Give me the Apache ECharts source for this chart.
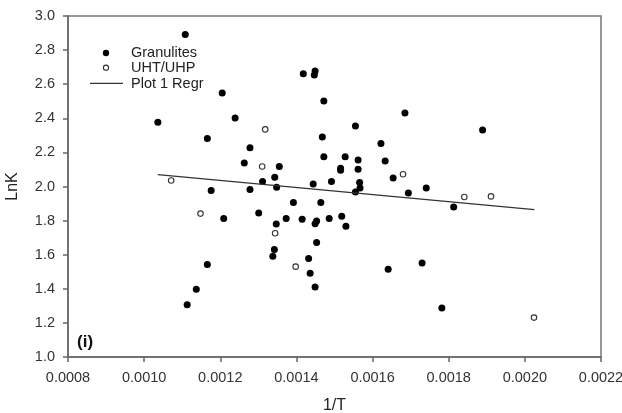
<!DOCTYPE html>
<html>
<head>
<meta charset="utf-8">
<script src="https://cdn.jsdelivr.net/npm/echarts@6/dist/echarts.min.js"></script>
<style>
  html, body { margin: 0; padding: 0; background: #fff; }
  #myChart { width: 622px; height: 413px; }
</style>
</head>
<body>
<div id="myChart"></div>
<script>
// Granulites (filled dots)
var granX = [0.001108, 0.001036, 0.001205, 0.001239, 0.001166, 0.001278, 0.001263, 0.001355, 0.001311, 0.001343,
  0.001348, 0.001176, 0.001278, 0.001392, 0.001444, 0.001418, 0.001449, 0.001447, 0.001472, 0.001685,
  0.001555, 0.001889, 0.001468, 0.001622, 0.001472, 0.001528, 0.001562, 0.001633, 0.001516, 0.001516,
  0.001562, 0.001654, 0.001492, 0.001566, 0.001567, 0.001555, 0.001694, 0.001741, 0.001464, 0.001813,
  0.001209, 0.001301, 0.001347, 0.001373, 0.001415, 0.001449, 0.001453, 0.001342, 0.001338, 0.001453,
  0.001432, 0.001436, 0.001449, 0.001166, 0.001137, 0.001113, 0.001486, 0.001519, 0.001530, 0.001641,
  0.001730, 0.001782]
var granY = [2.891, 2.377, 2.548, 2.402, 2.281, 2.228, 2.138, 2.118, 2.030, 2.054,
  1.995, 1.976, 1.982, 1.906, 2.015, 2.662, 2.677, 2.654, 2.501, 2.431,
  2.355, 2.331, 2.290, 2.252, 2.175, 2.175, 2.155, 2.150, 2.107, 2.095,
  2.101, 2.050, 2.029, 2.023, 1.991, 1.968, 1.962, 1.991, 1.906, 1.880,
  1.812, 1.845, 1.780, 1.812, 1.808, 1.782, 1.798, 1.630, 1.591, 1.671,
  1.577, 1.491, 1.411, 1.542, 1.397, 1.307, 1.813, 1.825, 1.767, 1.514,
  1.551, 1.287]

// UHT/UHP (open circles)
var uhtX = [0.001071, 0.001318, 0.001310, 0.001680, 0.001841, 0.001911, 0.001148, 0.001344, 0.001398, 0.002024]
var uhtY = [2.035, 2.335, 2.117, 2.072, 1.938, 1.942, 1.841, 1.726, 1.530, 1.231]

// Plot 1 Regr, end points
var regrX = [0.001036, 0.002025]
var regrY = [2.070, 1.864]

var legendNames = ['Granulites', 'UHT/UHP', 'Plot 1 Regr']

function pairs (xs, ys) {
  var res = []
  for (var i = 0; i < xs.length; i++) {
    res.push([xs[i], ys[i]])
  }
  return res
}

var myChart = echarts.init(document.getElementById('myChart'))
var font = 'Liberation Sans, Arial, sans-serif'
var legendFont = '14.5px ' + font

// legend drawn by hand so the key matches the SigmaPlot one
var legendGraphic = [
  { type: 'circle', shape: { cx: 106, cy: 53, r: 3.2 }, style: { fill: '#000' } },
  { type: 'text', x: 131, y: 53, style: { text: legendNames[0], font: legendFont, fill: '#222', verticalAlign: 'middle' } },
  { type: 'circle', shape: { cx: 106, cy: 67.7, r: 2.6 }, style: { fill: '#fff', stroke: '#333', lineWidth: 1.1 } },
  { type: 'text', x: 131, y: 67.7, style: { text: legendNames[1], font: legendFont, fill: '#222', verticalAlign: 'middle' } },
  { type: 'line', shape: { x1: 90, y1: 83.3, x2: 123, y2: 83.3 }, style: { stroke: '#333', lineWidth: 1.2 } },
  { type: 'text', x: 131, y: 83.5, style: { text: legendNames[2], font: legendFont, fill: '#222', verticalAlign: 'middle' } },
  { type: 'text', x: 77, y: 342, style: { text: '(i)', font: 'bold 17px ' + font, fill: '#111', verticalAlign: 'middle' } }
]

var option = {
  backgroundColor: '#fff',
  animation: false,
  grid: {
    left: 68,
    right: 21,
    top: 16,
    bottom: 56,
    outerBoundsMode: 'none',
    containLabel: false,
    show: true,
    borderColor: '#777',
    borderWidth: 1.5
  },
  xAxis: {
    type: 'value',
    min: 0.0008,
    max: 0.0022,
    interval: 0.0002,
    name: '1/T',
    nameLocation: 'middle',
    nameGap: 41,
    nameTextStyle: { color: '#222', fontSize: 16, fontFamily: font },
    axisLine: { lineStyle: { color: '#666', width: 1.5 } },
    axisTick: { length: 5, lineStyle: { color: '#666', width: 1.5 } },
    axisLabel: {
      color: '#333',
      fontSize: 14.5,
      fontFamily: font,
      margin: 13,
      formatter: function (v) { return v.toFixed(4) }
    },
    splitLine: { show: false }
  },
  yAxis: {
    type: 'value',
    min: 1,
    max: 3,
    interval: 0.2,
    name: 'LnK',
    nameLocation: 'middle',
    nameGap: 47,
    nameTextStyle: { color: '#222', fontSize: 16, fontFamily: font },
    axisLine: { lineStyle: { color: '#666', width: 1.5 } },
    axisTick: { length: 5, lineStyle: { color: '#666', width: 1.5 } },
    axisLabel: {
      color: '#333',
      fontSize: 14.5,
      fontFamily: font,
      margin: 13,
      formatter: function (v) { return v.toFixed(1) }
    },
    splitLine: { show: false }
  },
  graphic: legendGraphic,
  series: [
    {
      name: legendNames[0],
      type: 'scatter',
      symbol: 'circle',
      symbolSize: 7,
      itemStyle: { color: '#000', opacity: 1 },
      data: pairs(granX, granY)
    },
    {
      name: legendNames[1],
      type: 'scatter',
      symbol: 'circle',
      symbolSize: 5.5,
      itemStyle: { color: '#fff', borderColor: '#333', borderWidth: 1.1, opacity: 1 },
      data: pairs(uhtX, uhtY)
    },
    {
      name: legendNames[2],
      type: 'line',
      symbol: 'none',
      lineStyle: { color: '#333', width: 1.2 },
      data: pairs(regrX, regrY)
    }
  ]
}
myChart.setOption(option)
</script>
</body>
</html>
